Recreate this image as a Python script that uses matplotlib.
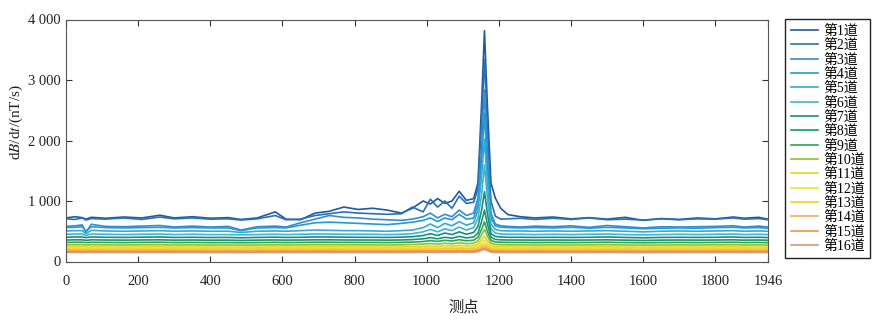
import matplotlib
matplotlib.use("Agg")
from matplotlib import pyplot as plt

# measuring points (shared x grid for all channels)
POINTS = [0, 25, 45, 55, 70, 110, 160, 210, 260, 300,
          350, 400, 450, 485, 530, 580, 610, 650, 690, 730,
          770, 810, 850, 890, 930, 960, 990, 1010, 1030, 1050,
          1070, 1090, 1110, 1130, 1142, 1152, 1160, 1168, 1178, 1190,
          1205, 1225, 1260, 1300, 1350, 1400, 1450, 1500, 1550, 1600,
          1650, 1700, 1750, 1800, 1850, 1880, 1920, 1946]

CH1 = [720, 740, 725, 700, 730, 715, 735, 720, 765, 720,
       740, 715, 725, 695, 720, 820, 700, 690, 800, 830,
       900, 860, 880, 850, 800, 880, 1000, 950, 1040, 960,
       1000, 1160, 1010, 1040, 1300, 2600, 3815, 2600, 1300, 1050,
       880, 775, 740, 720, 735, 705, 725, 700, 730, 680,
       710, 695, 720, 705, 735, 715, 730, 700]
CH2 = [705, 695, 720, 685, 710, 700, 720, 695, 735, 705,
       720, 700, 705, 685, 705, 760, 690, 700, 760, 790,
       820, 800, 790, 780, 790, 900, 820, 1030, 900, 1000,
       880, 1080, 960, 980, 1200, 2300, 3340, 2200, 1000, 750,
       700, 705, 715, 695, 715, 695, 720, 690, 700, 685,
       705, 690, 705, 700, 720, 700, 710, 690]
CH3 = [580, 590, 605, 480, 615, 580, 575, 585, 595, 570,
       585, 570, 580, 520, 575, 585, 570, 640, 700, 760,
       730, 720, 700, 690, 680, 700, 740, 800, 720, 780,
       740, 850, 760, 800, 1050, 1850, 2835, 1800, 800, 620,
       590, 580, 570, 585, 575, 590, 565, 595, 575, 555,
       575, 570, 575, 580, 590, 570, 585, 570]
CH4 = [560, 565, 575, 500, 575, 560, 555, 560, 565, 555,
       560, 555, 555, 510, 555, 560, 555, 600, 640, 650,
       640, 630, 620, 610, 630, 650, 680, 720, 660, 720,
       690, 780, 700, 720, 950, 1650, 2450, 1550, 720, 590,
       565, 560, 555, 560, 555, 565, 550, 565, 555, 540,
       550, 555, 550, 560, 565, 555, 560, 550]
CH5 = [505, 510, 510, 460, 515, 505, 500, 505, 510, 500,
       505, 500, 500, 480, 500, 505, 500, 510, 520, 515,
       510, 510, 505, 500, 510, 520, 560, 620, 560, 630,
       590, 660, 600, 640, 850, 1400, 2020, 1300, 620, 530,
       510, 505, 505, 500, 505, 500, 505, 510, 500, 490,
       500, 505, 500, 505, 510, 500, 505, 500]
CH6 = [450, 455, 455, 430, 455, 450, 445, 450, 455, 445,
       450, 445, 445, 440, 445, 450, 445, 450, 455, 455,
       450, 450, 450, 445, 450, 460, 490, 530, 490, 540,
       510, 570, 520, 560, 720, 1100, 1595, 1050, 540, 470,
       455, 450, 450, 445, 450, 445, 450, 455, 445, 440,
       445, 450, 445, 450, 455, 445, 450, 445]
CH7 = [400, 405, 405, 395, 405, 400, 398, 402, 405, 398,
       400, 397, 398, 392, 398, 402, 398, 400, 405, 405,
       402, 400, 400, 398, 402, 410, 430, 460, 430, 470,
       445, 490, 450, 480, 580, 850, 1154, 800, 460, 415,
       405, 400, 400, 398, 400, 398, 400, 405, 398, 392,
       398, 400, 398, 400, 405, 398, 400, 396]
CH8 = [355, 358, 358, 350, 358, 355, 353, 356, 358, 353,
       355, 352, 353, 348, 353, 356, 353, 355, 358, 358,
       356, 355, 355, 353, 356, 362, 375, 395, 375, 400,
       385, 415, 390, 405, 470, 660, 851, 620, 400, 365,
       358, 355, 355, 353, 355, 353, 355, 358, 353, 348,
       353, 355, 353, 355, 358, 353, 355, 351]
CH9 = [315, 318, 318, 312, 318, 315, 313, 316, 318, 313,
       315, 312, 313, 310, 313, 316, 313, 315, 318, 318,
       316, 315, 315, 313, 316, 320, 330, 345, 332, 350,
       338, 360, 342, 352, 400, 530, 655, 500, 350, 322,
       318, 315, 315, 313, 315, 313, 315, 318, 313, 310,
       313, 315, 313, 315, 318, 313, 315, 311]
CH10 = [275, 277, 277, 272, 277, 275, 273, 276, 277, 273,
        275, 272, 273, 270, 273, 276, 273, 275, 277, 277,
        276, 275, 275, 273, 276, 280, 287, 298, 288, 302,
        292, 310, 295, 302, 340, 440, 530, 420, 305, 280,
        277, 275, 275, 273, 275, 273, 275, 277, 273, 270,
        273, 275, 273, 275, 277, 273, 275, 271]
CH11 = [240, 242, 242, 238, 242, 240, 238, 241, 242, 238,
        240, 238, 238, 236, 238, 241, 238, 240, 242, 242,
        241, 240, 240, 238, 241, 244, 250, 258, 250, 262,
        254, 268, 256, 262, 290, 365, 420, 345, 265, 244,
        242, 240, 240, 238, 240, 238, 240, 242, 238, 236,
        238, 240, 238, 240, 242, 238, 240, 237]
CH12 = [220, 221, 221, 218, 221, 220, 219, 220, 221, 219,
        220, 218, 219, 217, 219, 220, 219, 220, 221, 221,
        220, 220, 220, 219, 220, 222, 226, 232, 226, 235,
        229, 240, 231, 236, 258, 315, 355, 300, 238, 223,
        221, 220, 220, 219, 220, 219, 220, 221, 219, 217,
        219, 220, 219, 220, 221, 219, 220, 218]
CH13 = [200, 201, 201, 198, 201, 200, 199, 200, 201, 199,
        200, 198, 199, 197, 199, 200, 199, 200, 201, 201,
        200, 200, 200, 199, 200, 202, 205, 209, 205, 211,
        207, 215, 208, 212, 228, 270, 300, 260, 214, 202,
        201, 200, 200, 199, 200, 199, 200, 201, 199, 197,
        199, 200, 199, 200, 201, 199, 200, 198]
CH14 = [180, 181, 181, 178, 181, 180, 179, 180, 181, 179,
        180, 178, 179, 177, 179, 180, 179, 180, 181, 181,
        180, 180, 180, 179, 180, 181, 183, 186, 183, 187,
        184, 190, 185, 188, 200, 232, 256, 225, 190, 182,
        181, 180, 180, 179, 180, 179, 180, 181, 179, 177,
        179, 180, 179, 180, 181, 179, 180, 178]
CH15 = [165, 166, 166, 163, 166, 165, 164, 165, 166, 164,
        165, 163, 164, 162, 164, 165, 164, 165, 166, 166,
        165, 165, 165, 164, 165, 166, 168, 170, 167, 171,
        168, 173, 169, 171, 180, 205, 223, 200, 173, 166,
        166, 165, 165, 164, 165, 164, 165, 166, 164, 162,
        164, 165, 164, 165, 166, 164, 165, 163]
CH16 = [150, 151, 151, 148, 151, 150, 149, 150, 151, 149,
        150, 148, 149, 147, 149, 150, 149, 150, 151, 151,
        150, 150, 150, 149, 150, 151, 152, 154, 151, 155,
        152, 157, 153, 155, 162, 185, 200, 180, 157, 151,
        151, 150, 150, 149, 150, 149, 150, 151, 149, 147,
        149, 150, 149, 150, 151, 149, 150, 148]

CHANNELS = [CH1, CH2, CH3, CH4, CH5, CH6, CH7, CH8,
            CH9, CH10, CH11, CH12, CH13, CH14, CH15, CH16]
LABELS = [f"第{i}道" for i in range(1, 17)]
COLORS = ["#1f5a9e", "#2a70b6", "#3a8cc6", "#1f9bd6", "#35aad4", "#3fb6cc",
          "#1a8c86", "#14996f", "#2ea356", "#8dbf38", "#e3d61c", "#f2e03a",
          "#f6cf1a", "#f2b155", "#ea9548", "#d8967a"]

XTICKS = [0, 200, 400, 600, 800, 1000, 1200, 1400, 1600, 1800, 1946]
YTICKS = [0, 1000, 2000, 3000, 4000]
YTICK_LABELS = ["0", "1 000", "2 000", "3 000", "4 000"]

FONT = ["Liberation Serif", "Noto Sans CJK SC"]
plt.rcParams["font.family"] = FONT
plt.rcParams["mathtext.fontset"] = "stix"


def main():
    fig = plt.figure(figsize=(8.95, 3.22), dpi=100)
    ax = fig.add_axes([66 / 895, 60.5 / 322, 702 / 895, 242 / 322])

    for values, label, color in zip(CHANNELS, LABELS, COLORS):
        ax.plot(POINTS, values, color=color, lw=1.2, label=label)

    ax.set_xlim(0, 1946)
    ax.set_ylim(0, 4000)
    ax.set_xticks(XTICKS)
    ax.set_yticks(YTICKS)
    ax.set_yticklabels(YTICK_LABELS)
    ax.tick_params(direction="in", top=True, right=True, length=4,
                   width=0.8, colors="#333333", labelcolor="#222222",
                   labelsize=10.5)
    ax.tick_params(axis="x", pad=10)
    ax.tick_params(axis="y", pad=4)
    for spine in ax.spines.values():
        spine.set_color("#555555")
        spine.set_linewidth(0.8)

    ax.set_xlabel("测点", fontsize=11, color="#222222")
    ax.xaxis.set_label_coords(0.566, -0.16)
    ax.set_ylabel("d$B$/d$t$/(nT/s)", fontsize=11, color="#222222")
    ax.yaxis.set_label_coords(-0.058, 0.576)

    fig.legend(loc="upper left", bbox_to_anchor=(785 / 895, 1 - 19 / 322),
               bbox_transform=fig.transFigure, borderaxespad=0,
               fontsize=10, labelspacing=0.075, handlelength=2.0,
               handletextpad=0.35, borderpad=0.4, frameon=True,
               fancybox=False, edgecolor="#222222", framealpha=1)

    fig.savefig("out.png", dpi=100)


if __name__ == "__main__":
    main()
